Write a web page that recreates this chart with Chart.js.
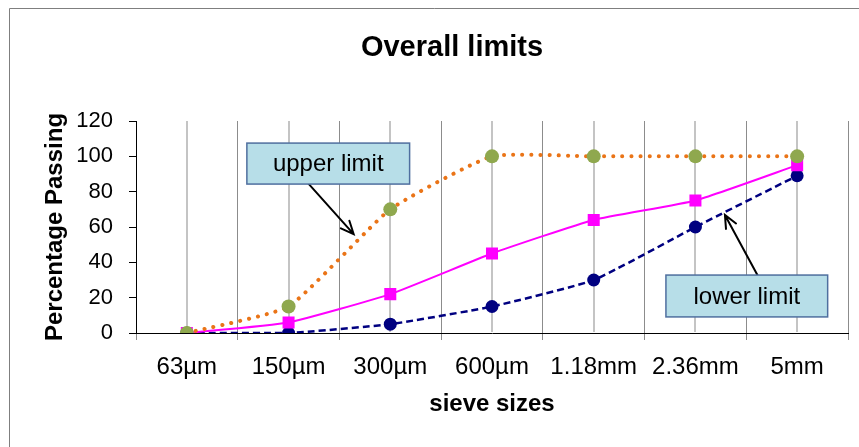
<!DOCTYPE html>
<html>
<head>
<meta charset="utf-8">
<script src="https://cdn.jsdelivr.net/npm/chart.js@4"></script>
<style>
  html, body { margin: 0; padding: 0; background: #fff; }
  #wrap { width: 859px; height: 447px; }
</style>
</head>
<body>
<div id="wrap"><canvas id="chart" width="859" height="447"></canvas></div>
<script>
// Grading envelope

const sieveSizes = ['63µm', '150µm', '300µm', '600µm', '1.18mm', '2.36mm', '5mm'];
const upperLimit = [0, 15, 70, 100, 100, 100, 100];
const sampleGrading = [0, 6, 22, 45, 64, 75, 95];
const lowerLimit = [0, 0, 5, 15, 30, 60, 89];
const yMin = 0;
const yMax = 120;
const yStep = 20;

const FONT = "'Liberation Sans', Arial, sans-serif";

// callouts, placed in data units (category index, percentage)
const callouts = [
  { text: 'upper limit', box: [0.59, 107.5, 2.19, 84.3], from: [1.18, 85.5], to: [1.64, 56] },
  { text: 'lower limit', box: [4.71, 32.8, 6.30, 9.1], from: [5.62, 31.7], to: [5.29, 66.8] },
];

// outer chart frame + the title (the frame runs past the right edge, so the
// title is centred on it rather than on the canvas)
const framePlugin = {
  id: 'frame',
  beforeDraw(chart) {
    const ctx = chart.ctx;
    ctx.save();
    ctx.strokeStyle = '#7f7f7f';
    ctx.lineWidth = 1;
    ctx.beginPath();
    ctx.moveTo(9.5, chart.height);
    ctx.lineTo(9.5, 8.5);
    ctx.lineTo(chart.width, 8.5);
    ctx.stroke();

    ctx.fillStyle = '#000';
    ctx.font = `bold 29px ${FONT}`;
    ctx.textAlign = 'center';
    ctx.textBaseline = 'middle';
    ctx.fillText('Overall limits', 452, 48);
    ctx.restore();
  },
};

// light grid lines through each category centre
const centreGridPlugin = {
  id: 'centreGrid',
  beforeDatasetsDraw(chart) {
    const { ctx, chartArea } = chart;
    const xs = chart.scales.x;
    ctx.save();
    ctx.strokeStyle = '#c4c4c4';
    ctx.lineWidth = 2;
    sieveSizes.forEach((s, i) => {
      const x = Math.round(xs.getPixelForValue(i));
      ctx.beginPath();
      ctx.moveTo(x, chartArea.top);
      ctx.lineTo(x, chartArea.bottom - 1);
      ctx.stroke();
    });
    ctx.restore();
  },
};

const calloutPlugin = {
  id: 'callouts',
  afterDatasetsDraw(chart) {
    const ctx = chart.ctx;
    const xs = chart.scales.x;
    const ys = chart.scales.y;
    ctx.save();
    callouts.forEach((c) => {
      const x1 = xs.getPixelForValue(c.box[0]);
      const y1 = ys.getPixelForValue(c.box[1]);
      const x2 = xs.getPixelForValue(c.box[2]);
      const y2 = ys.getPixelForValue(c.box[3]);

      // arrow
      const fx = xs.getPixelForValue(c.from[0]);
      const fy = ys.getPixelForValue(c.from[1]);
      const tx = xs.getPixelForValue(c.to[0]);
      const ty = ys.getPixelForValue(c.to[1]);
      const ang = Math.atan2(ty - fy, tx - fx);
      const head = 14;
      ctx.strokeStyle = '#000';
      ctx.lineWidth = 2;
      ctx.lineCap = 'round';
      ctx.beginPath();
      ctx.moveTo(fx, fy);
      ctx.lineTo(tx, ty);
      ctx.moveTo(tx - head * Math.cos(ang - 0.42), ty - head * Math.sin(ang - 0.42));
      ctx.lineTo(tx, ty);
      ctx.lineTo(tx - head * Math.cos(ang + 0.42), ty - head * Math.sin(ang + 0.42));
      ctx.stroke();

      // box
      ctx.fillStyle = '#b7dee8';
      ctx.fillRect(x1, y1, x2 - x1, y2 - y1);
      ctx.strokeStyle = '#4f6f9f';
      ctx.lineWidth = 1.5;
      ctx.strokeRect(x1, y1, x2 - x1, y2 - y1);

      ctx.fillStyle = '#000';
      ctx.font = `24px ${FONT}`;
      ctx.textAlign = 'center';
      ctx.textBaseline = 'middle';
      ctx.fillText(c.text, (x1 + x2) / 2, (y1 + y2) / 2 + 1);
    });
    ctx.restore();
  },
};

new Chart(document.getElementById('chart'), {
  type: 'line',
  data: {
    labels: sieveSizes,
    datasets: [
      {
        label: 'upper limit',
        data: upperLimit,
        borderColor: '#ea7417',
        borderWidth: 4,
        borderDash: [0.1, 9],
        borderCapStyle: 'round',
        pointStyle: 'circle',
        pointRadius: 7,
        pointBackgroundColor: '#8fa84e',
        pointBorderColor: '#8fa84e',
        pointBorderWidth: 0,
        tension: 0.15,
      },
      {
        label: 'sample',
        data: sampleGrading,
        borderColor: '#ff00ff',
        borderWidth: 2,
        pointStyle: 'rect',
        pointRadius: 8.5,
        pointBackgroundColor: '#ff00ff',
        pointBorderColor: '#ff00ff',
        pointBorderWidth: 0,
        tension: 0.15,
      },
      {
        label: 'lower limit',
        data: lowerLimit,
        borderColor: '#000080',
        borderWidth: 2.5,
        borderDash: [7, 4],
        pointStyle: 'circle',
        pointRadius: 6.5,
        pointBackgroundColor: '#000080',
        pointBorderColor: '#000080',
        pointBorderWidth: 0,
        tension: 0.15,
      },
    ],
  },
  options: {
    responsive: false,
    animation: false,
    layout: { padding: { left: 0, right: 11, top: 121, bottom: 0 } },
    scales: {
      x: {
        offset: true,
        afterFit: (s) => { s.height = 114; },
        grid: {
          offset: true,
          color: '#8c8c8c',
          lineWidth: 1,
          tickLength: 7,
          tickColor: '#8c8c8c',
        },
        border: { color: '#000', width: 1 },
        ticks: { color: '#000', font: { family: FONT, size: 24 }, padding: 13, maxRotation: 0, autoSkip: false },
        title: {
          display: true,
          text: 'sieve sizes',
          color: '#000',
          font: { family: FONT, size: 24, weight: 'bold' },
          padding: { top: 0, bottom: 28 },
        },
      },
      y: {
        min: yMin,
        max: yMax,
        afterFit: (s) => { s.width = 136; },
        grid: { drawOnChartArea: false, tickLength: 7, tickColor: '#000' },
        border: { color: '#000', width: 1 },
        ticks: { stepSize: yStep, color: '#000', font: { family: FONT, size: 22 }, padding: 16 },
        title: {
          display: true,
          text: 'Percentage Passing',
          color: '#000',
          font: { family: FONT, size: 24, weight: 'bold' },
          padding: { top: 41, bottom: 0 },
        },
      },
    },
    plugins: {
      legend: { display: false },
      tooltip: { enabled: false },
      title: { display: false },
    },
  },
  plugins: [framePlugin, centreGridPlugin, calloutPlugin],
});
</script>
</body>
</html>
